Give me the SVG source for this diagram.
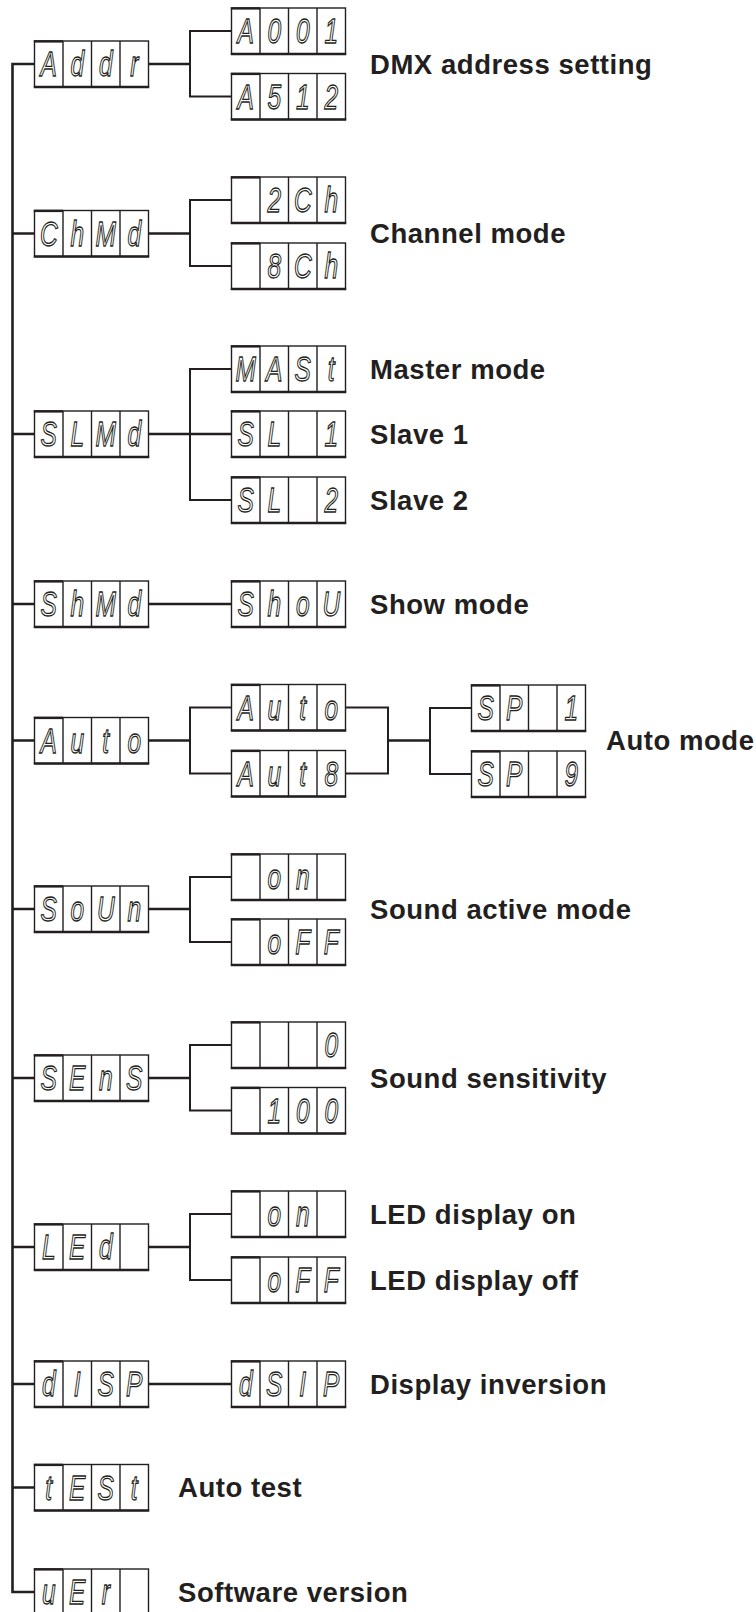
<svg xmlns="http://www.w3.org/2000/svg" xmlns:xlink="http://www.w3.org/1999/xlink" width="756" height="1612" viewBox="0 0 756 1612">
<style>
.ln{fill:none;stroke:#231f20;stroke-width:2.6;stroke-linejoin:miter}
.lt{fill:none;stroke:#231f20;stroke-width:2}
.seg{font-family:"Liberation Sans",Arial,sans-serif;font-style:italic;font-size:35px;fill:none;stroke:#231f20;stroke-width:1.1;text-anchor:middle;vector-effect:non-scaling-stroke}
.lbl{font-family:"Liberation Sans",Arial,sans-serif;font-weight:bold;font-size:27.5px;letter-spacing:0.55px;fill:#231f20}
</style>
<defs>
<g id="bx">
<rect x="0" y="0" width="114" height="46" fill="#fff" stroke="#231f20" stroke-width="1.4"/>
<path d="M28.5 0V46M57 0V46M85.5 0V46" stroke="#231f20" stroke-width="1.4" fill="none"/>
<path d="M-0.7 46H114.7" stroke="#231f20" stroke-width="2.6"/>
<path d="M-0.7 0.4H28.5" stroke="#231f20" stroke-width="2.4"/>
</g>
</defs>
<rect width="756" height="1612" fill="#fff"/>
<g id="connectors">
<path class="ln" d="M34.5 64H12.5V1592H34.5"/>
<path class="ln" d="M12.5 233.5H34.5M12.5 434H34.5M12.5 604H34.5M12.5 740.5H34.5M12.5 909H34.5M12.5 1078H34.5M12.5 1247H34.5M12.5 1384H34.5M12.5 1487.5H34.5"/>
<path class="ln" d="M148.5 64H190M148.5 233.5H190M148.5 434H231.5M148.5 604H231.5M148.5 740.5H190M148.5 909H190M148.5 1078H190M148.5 1247H190M148.5 1384H231.5M388 740.5H430"/>
<path class="lt" d="M231.5 31H190V96.5H231.5M231.5 200H190V266H231.5M231.5 369H190V500H231.5M231.5 707.5H190V773.5H231.5M345.5 707.5H388V773.5H345.5M471.5 708H430V774H471.5M231.5 877H190V942H231.5M231.5 1045H190V1110.5H231.5M231.5 1214H190V1280H231.5"/>
</g>
<g id="addr" transform="translate(34.5,41)"><use xlink:href="#bx"/><text class="seg" transform="scale(0.7 1)" x="20.36 61.07 101.79 142.5" y="35.5">Addr</text></g>
<g id="a001" transform="translate(231.5,8)"><use xlink:href="#bx"/><text class="seg" transform="scale(0.7 1)" x="20.36 61.07 101.79 142.5" y="35.5">A001</text></g>
<g id="a512" transform="translate(231.5,73.5)"><use xlink:href="#bx"/><text class="seg" transform="scale(0.7 1)" x="20.36 61.07 101.79 142.5" y="35.5">A512</text></g>
<g id="chmd" transform="translate(34.5,210.5)"><use xlink:href="#bx"/><text class="seg" transform="scale(0.7 1)" x="20.36 61.07 101.79 142.5" y="35.5">ChMd</text></g>
<g id="c2ch" transform="translate(231.5,177)"><use xlink:href="#bx"/><text class="seg" transform="scale(0.7 1)" x="61.07 101.79 142.5" y="35.5">2Ch</text></g>
<g id="c8ch" transform="translate(231.5,243)"><use xlink:href="#bx"/><text class="seg" transform="scale(0.7 1)" x="61.07 101.79 142.5" y="35.5">8Ch</text></g>
<g id="slmd" transform="translate(34.5,411)"><use xlink:href="#bx"/><text class="seg" transform="scale(0.7 1)" x="20.36 61.07 101.79 142.5" y="35.5">SLMd</text></g>
<g id="mast" transform="translate(231.5,346)"><use xlink:href="#bx"/><text class="seg" transform="scale(0.7 1)" x="20.36 61.07 101.79 142.5" y="35.5">MASt</text></g>
<g id="sl1" transform="translate(231.5,411)"><use xlink:href="#bx"/><text class="seg" transform="scale(0.7 1)" x="20.36 61.07 142.5" y="35.5">SL1</text></g>
<g id="sl2" transform="translate(231.5,477)"><use xlink:href="#bx"/><text class="seg" transform="scale(0.7 1)" x="20.36 61.07 142.5" y="35.5">SL2</text></g>
<g id="shmd" transform="translate(34.5,581)"><use xlink:href="#bx"/><text class="seg" transform="scale(0.7 1)" x="20.36 61.07 101.79 142.5" y="35.5">ShMd</text></g>
<g id="show" transform="translate(231.5,581)"><use xlink:href="#bx"/><text class="seg" transform="scale(0.7 1)" x="20.36 61.07 101.79 142.5" y="35.5">ShoU</text></g>
<g id="auto" transform="translate(34.5,717.5)"><use xlink:href="#bx"/><text class="seg" transform="scale(0.7 1)" x="20.36 61.07 101.79 142.5" y="35.5">Auto</text></g>
<g id="auto1" transform="translate(231.5,684.5)"><use xlink:href="#bx"/><text class="seg" transform="scale(0.7 1)" x="20.36 61.07 101.79 142.5" y="35.5">Auto</text></g>
<g id="auto8" transform="translate(231.5,750.5)"><use xlink:href="#bx"/><text class="seg" transform="scale(0.7 1)" x="20.36 61.07 101.79 142.5" y="35.5">Aut8</text></g>
<g id="sp1" transform="translate(471.5,685)"><use xlink:href="#bx"/><text class="seg" transform="scale(0.7 1)" x="20.36 61.07 142.5" y="35.5">SP1</text></g>
<g id="sp9" transform="translate(471.5,751)"><use xlink:href="#bx"/><text class="seg" transform="scale(0.7 1)" x="20.36 61.07 142.5" y="35.5">SP9</text></g>
<g id="soun" transform="translate(34.5,886)"><use xlink:href="#bx"/><text class="seg" transform="scale(0.7 1)" x="20.36 61.07 101.79 142.5" y="35.5">SoUn</text></g>
<g id="son" transform="translate(231.5,854)"><use xlink:href="#bx"/><text class="seg" transform="scale(0.7 1)" x="61.07 101.79" y="35.5">on</text></g>
<g id="soff" transform="translate(231.5,919)"><use xlink:href="#bx"/><text class="seg" transform="scale(0.7 1)" x="61.07 101.79 142.5" y="35.5">oFF</text></g>
<g id="sens" transform="translate(34.5,1055)"><use xlink:href="#bx"/><text class="seg" transform="scale(0.7 1)" x="20.36 61.07 101.79 142.5" y="35.5">SEnS</text></g>
<g id="s0" transform="translate(231.5,1022)"><use xlink:href="#bx"/><text class="seg" transform="scale(0.7 1)" x="142.5" y="35.5">0</text></g>
<g id="s100" transform="translate(231.5,1087.5)"><use xlink:href="#bx"/><text class="seg" transform="scale(0.7 1)" x="61.07 101.79 142.5" y="35.5">100</text></g>
<g id="led" transform="translate(34.5,1224)"><use xlink:href="#bx"/><text class="seg" transform="scale(0.7 1)" x="20.36 61.07 101.79" y="35.5">LEd</text></g>
<g id="lon" transform="translate(231.5,1191)"><use xlink:href="#bx"/><text class="seg" transform="scale(0.7 1)" x="61.07 101.79" y="35.5">on</text></g>
<g id="loff" transform="translate(231.5,1257)"><use xlink:href="#bx"/><text class="seg" transform="scale(0.7 1)" x="61.07 101.79 142.5" y="35.5">oFF</text></g>
<g id="disp" transform="translate(34.5,1361)"><use xlink:href="#bx"/><text class="seg" transform="scale(0.7 1)" x="20.36 61.07 101.79 142.5" y="35.5">dISP</text></g>
<g id="dsip" transform="translate(231.5,1361)"><use xlink:href="#bx"/><text class="seg" transform="scale(0.7 1)" x="20.36 61.07 101.79 142.5" y="35.5">dSIP</text></g>
<g id="test" transform="translate(34.5,1464.5)"><use xlink:href="#bx"/><text class="seg" transform="scale(0.7 1)" x="20.36 61.07 101.79 142.5" y="35.5">tESt</text></g>
<g id="ver" transform="translate(34.5,1569)"><use xlink:href="#bx"/><text class="seg" transform="scale(0.7 1)" x="20.36 61.07 101.79" y="35.5">uEr</text></g>
<g id="labels">
<text class="lbl" x="370" y="73.5">DMX address setting</text>
<text class="lbl" x="370" y="243">Channel mode</text>
<text class="lbl" x="370" y="378.5">Master mode</text>
<text class="lbl" x="370" y="443.5">Slave 1</text>
<text class="lbl" x="370" y="509.5">Slave 2</text>
<text class="lbl" x="370" y="613.5">Show mode</text>
<text class="lbl" x="606" y="750">Auto mode</text>
<text class="lbl" x="370" y="918.5">Sound active mode</text>
<text class="lbl" x="370" y="1087.5">Sound sensitivity</text>
<text class="lbl" x="370" y="1223.5">LED display on</text>
<text class="lbl" x="370" y="1289.5">LED display off</text>
<text class="lbl" x="370" y="1393.5">Display inversion</text>
<text class="lbl" x="178" y="1497">Auto test</text>
<text class="lbl" x="178" y="1601.5">Software version</text>
</g>
</svg>
